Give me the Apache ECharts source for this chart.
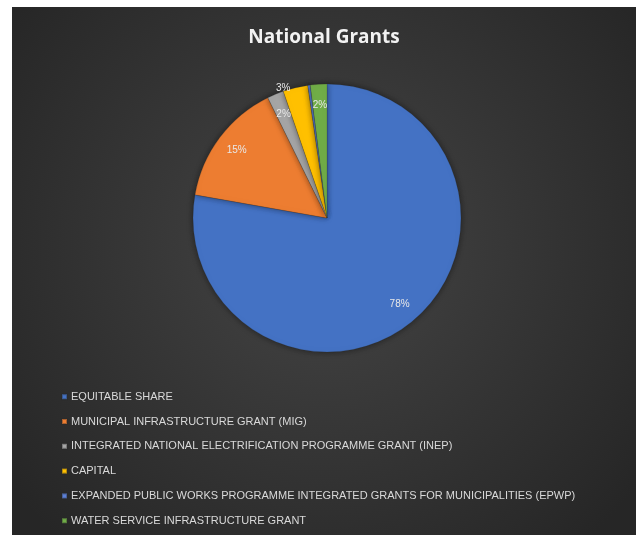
<!DOCTYPE html>
<html>
<head>
<meta charset="utf-8">
<script src="https://cdn.jsdelivr.net/npm/echarts@6/dist/echarts.min.js"></script>
<style>
  html, body { margin: 0; padding: 0; background: #ffffff; }
  #chart { position: absolute; left: 12px; top: 7px; width: 624px; height: 528px; }
</style>
</head>
<body>
<div id="chart"></div>
<script>
// Grant names, shares (percent) and slice colours
const grantNames = [
  'EQUITABLE SHARE',
  'MUNICIPAL INFRASTRUCTURE GRANT (MIG)',
  'INTEGRATED NATIONAL ELECTRIFICATION PROGRAMME GRANT (INEP)',
  'CAPITAL',
  'EXPANDED PUBLIC WORKS PROGRAMME INTEGRATED GRANTS FOR MUNICIPALITIES (EPWP)',
  'WATER SERVICE INFRASTRUCTURE GRANT'
];
const grantShares = [78, 15, 2, 3, 0.3, 2];
const sliceColors = ['#4472c4', '#ed7d31', '#a5a5a5', '#ffc000', '#5b7fd6', '#70ad47'];

const chart = echarts.init(document.getElementById('chart'));

const pieCenter = [315, 211];
const pieRadius = 134;

const sliceData = grantNames.map((name, i) => ({
  name: name,
  value: grantShares[i],
  itemStyle: { color: sliceColors[i] }
}));

// Label ring: transparent slices that carry the percentage labels near the rim
const labelData = grantNames.map((name, i) => {
  const item = { name: name, value: grantShares[i] };
  if (name === 'CAPITAL') {
    item.label = { position: 'outside', distance: 2 };
    item.labelLine = { show: false, length: 0, length2: 0 };
  }
  return item;
});

chart.setOption({
  backgroundColor: {
    type: 'radial', x: 0.5, y: 0.45, r: 0.75,
    colorStops: [
      { offset: 0, color: '#454545' },
      { offset: 1, color: '#262626' }
    ]
  },
  color: sliceColors,
  title: {
    text: 'National Grants',
    left: 'center',
    top: 16,
    textStyle: {
      color: '#f2f2f2',
      fontFamily: 'Open Sans',
      fontWeight: 'bold',
      fontSize: 19
    }
  },
  legend: {
    orient: 'vertical',
    left: 49,
    top: 383,
    height: 142,
    padding: 0,
    icon: 'rect',
    itemWidth: 5,
    itemHeight: 5,
    itemGap: 11.4,
    data: grantNames,
    textStyle: {
      color: '#d9d9d9',
      fontFamily: 'Liberation Sans',
      fontSize: 11,
      lineHeight: 13.4,
      padding: [0, 0, 0, -1]
    }
  },
  series: [
    {
      type: 'pie',
      center: pieCenter,
      radius: [0, pieRadius],
      startAngle: 90,
      clockwise: true,
      avoidLabelOverlap: false,
      silent: true,
      label: { show: false },
      labelLine: { show: false },
      itemStyle: {
        borderColor: 'rgba(40,40,40,0.35)',
        borderWidth: 0.5,
        shadowColor: 'rgba(0,0,0,0.45)',
        shadowBlur: 6
      },
      data: sliceData
    },
    {
      type: 'pie',
      center: pieCenter,
      radius: [pieRadius * 0.64, pieRadius],
      startAngle: 90,
      clockwise: true,
      avoidLabelOverlap: false,
      silent: true,
      legendHoverLink: false,
      itemStyle: { color: 'rgba(0,0,0,0)' },
      emphasis: { disabled: true },
      label: {
        show: true,
        position: 'inside',
        color: '#e8e8e8',
        fontFamily: 'Liberation Sans',
        fontSize: 10,
        formatter: (p) => p.value >= 1 ? Math.round(p.value) + '%' : ''
      },
      labelLine: { show: false },
      data: labelData
    }
  ]
});
</script>
</body>
</html>
